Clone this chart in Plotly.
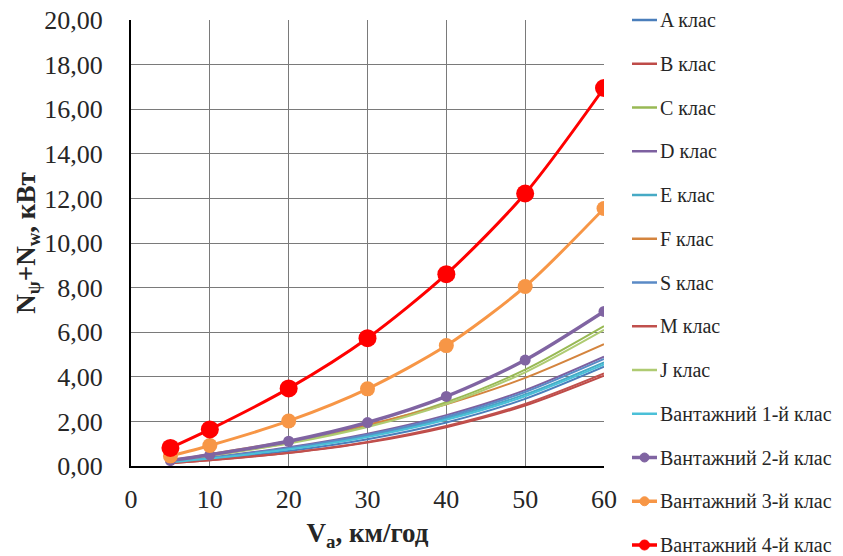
import plotly.graph_objects as go

speeds = [5, 10, 20, 30, 40, 50, 60]

series_names = ["A клас", "B клас", "C клас", "D клас", "E клас", "F клас",
                "S клас", "M клас", "J клас",
                "Вантажний 1-й клас", "Вантажний 2-й клас",
                "Вантажний 3-й клас", "Вантажний 4-й клас"]

a_class = [0.145, 0.299, 0.673, 1.20, 1.95, 3.01, 4.45]
b_class = [0.122, 0.254, 0.580, 1.05, 1.74, 2.71, 4.05]
c_class = [0.228, 0.468, 1.036, 1.80, 2.86, 4.32, 6.27]
d_class = [0.188, 0.384, 0.843, 1.45, 2.28, 3.40, 4.90]
e_class = [0.173, 0.354, 0.780, 1.35, 2.14, 3.21, 4.65]
f_class = [0.261, 0.530, 1.125, 1.85, 2.77, 3.95, 5.46]
s_class = [0.180, 0.368, 0.810, 1.40, 2.21, 3.32, 4.80]
m_class = [0.126, 0.262, 0.597, 1.08, 1.79, 2.78, 4.15]
j_class = [0.220, 0.455, 1.006, 1.75, 2.78, 4.20, 6.10]
truck1 = [0.164, 0.337, 0.746, 1.30, 2.07, 3.13, 4.55]
truck2 = [0.243, 0.500, 1.110, 1.95, 3.12, 4.75, 6.93]
truck3 = [0.450, 0.920, 2.020, 3.46, 5.40, 8.05, 11.55]
truck4 = [0.810, 1.640, 3.480, 5.73, 8.60, 12.22, 16.95]

x_ticks = [0, 10, 20, 30, 40, 50, 60]
y_ticks = [0, 2, 4, 6, 8, 10, 12, 14, 16, 18, 20]

values = [a_class, b_class, c_class, d_class, e_class, f_class, s_class,
          m_class, j_class, truck1, truck2, truck3, truck4]
colors = ["#4A7EBB", "#BE4B48", "#98B954", "#7D60A0", "#46AAC5", "#D4843E",
          "#5A8AC6", "#C0504D", "#AFCB72", "#4BC0D8", "#8064A2", "#F79646", "#FF0000"]
marker_sizes = [0, 0, 0, 0, 0, 0, 0, 0, 0, 0, 11, 15, 18]
widths = [2, 2, 2, 2, 2, 2, 2, 2, 2, 2, 3.5, 3, 3]

W, H = 843, 556
ML, MR, MT, MB = 131, 239, 20, 90
PW, PH = W - ML - MR, H - MT - MB

fig = go.Figure()
for i, (name, vals) in enumerate(zip(series_names, values)):
    has_marker = marker_sizes[i] > 0
    fig.add_trace(go.Scatter(
        x=speeds, y=vals, name=name,
        mode="lines+markers" if has_marker else "lines",
        line=dict(color=colors[i], width=widths[i], shape="spline", smoothing=0.8),
        marker=dict(size=marker_sizes[i] if has_marker else 6, color=colors[i]),
        showlegend=False,
    ))

serif = "Liberation Serif, Times New Roman, serif"
txt = "#262626"

# Manual legend laid out in pixel space (converted to paper coords)
def px_x(p):
    return (p - ML) / PW

def px_y(p):
    return 1 - (p - MT) / PH

leg_top, leg_step = 20, 43.75
line_x0, line_x1, text_x = 632, 657, 658
shapes, annotations = [], []
for i, name in enumerate(series_names):
    cy = leg_top + i * leg_step
    shapes.append(dict(type="line", xref="paper", yref="paper",
                       x0=px_x(line_x0), x1=px_x(line_x1), y0=px_y(cy), y1=px_y(cy),
                       line=dict(color=colors[i], width=min(widths[i], 3) + 0.5)))
    if marker_sizes[i] > 0:
        r = 4.5 if i < 12 else 5
        cx = (line_x0 + line_x1) / 2
        shapes.append(dict(type="circle", xref="paper", yref="paper",
                           x0=px_x(cx - r), x1=px_x(cx + r), y0=px_y(cy - r), y1=px_y(cy + r),
                           fillcolor=colors[i], line=dict(color=colors[i], width=1)))
    annotations.append(dict(text=name, xref="paper", yref="paper",
                            x=px_x(text_x), y=px_y(cy), xanchor="left", yanchor="middle",
                            showarrow=False, font=dict(family=serif, size=20, color=txt)))

fig.update_layout(
    width=W, height=H,
    margin=dict(l=ML, r=MR, t=MT, b=MB),
    paper_bgcolor="white", plot_bgcolor="white",
    separators=", ",
    font=dict(family=serif, color=txt),
    showlegend=False,
    shapes=shapes, annotations=annotations,
    xaxis=dict(
        range=[0, 60], tickvals=x_ticks, ticks="",
        showgrid=True, gridcolor="#7A7A7A", gridwidth=1,
        showline=True, linecolor="black", linewidth=2,
        tickfont=dict(family=serif, size=26, color=txt),
        ticklabelstandoff=9, automargin=False,
        title=dict(text="<b>V<sub>a</sub>, км/год</b>", font=dict(family=serif, size=27, color=txt), standoff=10),
        zeroline=False,
    ),
    yaxis=dict(
        range=[0, 20], tickvals=y_ticks, tickformat=".2f", ticks="",
        showgrid=True, gridcolor="#7A7A7A", gridwidth=1,
        showline=True, linecolor="black", linewidth=2,
        tickfont=dict(family=serif, size=26, color=txt),
        ticklabelstandoff=21, automargin=False,
        title=dict(text="<b>N<sub>ψ</sub>+N<sub>w</sub>, кВт</b>", font=dict(family=serif, size=27, color=txt), standoff=0),
        zeroline=False,
    ),
)

fig.write_html("out.html", config={"displayModeBar": False},
               post_script="document.body.style.margin='0';document.body.style.overflow='hidden';")
